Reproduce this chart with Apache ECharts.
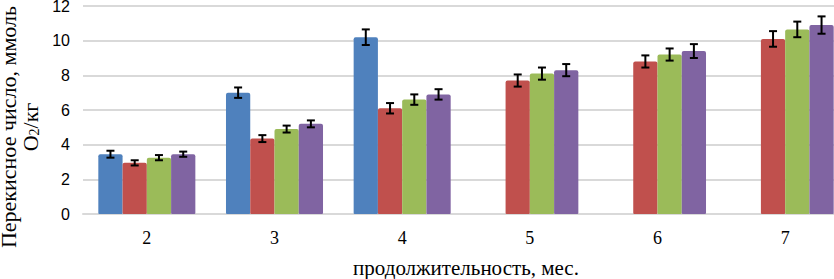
<!DOCTYPE html>
<html>
<head>
<meta charset="utf-8">
<script src="https://cdn.jsdelivr.net/npm/echarts@6/dist/echarts.min.js"></script>
<style>
  html, body { margin: 0; padding: 0; background: #fff; }
  #chart { width: 834px; height: 279px; }
</style>
</head>
<body>
<div id="chart"></div>
<script>
// months of storage
const categories = ['2', '3', '4', '5', '6', '7'];
const yTicks = [0, 2, 4, 6, 8, 10, 12];

// peroxide value, mmol O2/kg (blue series stops after month 4)
const blueValues = [3.45, 7.0, 10.2, '-', '-', '-'];
const redValues = [2.95, 4.35, 6.1, 7.7, 8.8, 10.1];
const greenValues = [3.25, 4.9, 6.6, 8.1, 9.2, 10.65];
const purpleValues = [3.45, 5.2, 6.9, 8.3, 9.4, 10.9];

// error bar half-heights
const blueErrors = [0.2, 0.3, 0.45, 0, 0, 0];
const redErrors = [0.15, 0.2, 0.3, 0.35, 0.35, 0.45];
const greenErrors = [0.15, 0.2, 0.3, 0.35, 0.35, 0.45];
const purpleErrors = [0.15, 0.2, 0.3, 0.35, 0.4, 0.5];

const colors = ['#4F81BD', '#C0504D', '#9BBB59', '#8064A2'];
const allValues = [blueValues, redValues, greenValues, purpleValues];
const allErrors = [blueErrors, redErrors, greenErrors, purpleErrors];

const barCategoryGap = 0.24;

const chart = echarts.init(document.getElementById('chart'), null, { renderer: 'svg' });

const barSeries = allValues.map((vals, k) => ({
  type: 'bar',
  data: vals,
  barGap: '0%',
  barCategoryGap: (barCategoryGap * 100) + '%',
  itemStyle: { color: colors[k], borderRadius: [2, 2, 1, 1] },
  z: 2
}));

const errorSeries = allValues.map((vals, k) => ({
  type: 'custom',
  z: 5,
  data: vals
    .map((v, i) => v === '-' ? null : [i, v, allErrors[k][i]])
    .filter(d => d !== null),
  renderItem: (params, api) => {
    const center = api.coord([api.value(0), 0])[0];
    const band = api.size([1, 0])[0];
    const bw = band * (1 - barCategoryGap) / 4;
    const cx = center + (k - 1.5) * bw;
    const top = api.coord([api.value(0), api.value(1) + api.value(2)])[1];
    const bot = api.coord([api.value(0), api.value(1) - api.value(2)])[1];
    const cap = 4;
    const style = { stroke: '#000', lineWidth: 2 };
    return {
      type: 'group',
      children: [
        { type: 'line', shape: { x1: cx, y1: top, x2: cx, y2: bot }, style },
        { type: 'line', shape: { x1: cx - cap, y1: top, x2: cx + cap, y2: top }, style },
        { type: 'line', shape: { x1: cx - cap, y1: bot, x2: cx + cap, y2: bot }, style }
      ]
    };
  }
}));

const option = {
  animation: false,
  grid: { left: 83, right: -15, top: 6, bottom: 65, outerBoundsMode: 'none' },
  xAxis: {
    type: 'category',
    data: categories,
    axisLine: { lineStyle: { color: '#d9d9d9', width: 2 } },
    axisTick: { show: false },
    axisLabel: {
      margin: 15,
      fontFamily: 'Liberation Serif',
      fontSize: 18,
      color: '#000'
    },
    name: 'продолжительность, мес.',
    nameLocation: 'middle',
    nameGap: 43,
    nameTextStyle: { fontFamily: 'Liberation Serif', fontSize: 21, color: '#000' }
  },
  yAxis: {
    type: 'value',
    min: yTicks[0],
    max: yTicks[yTicks.length - 1],
    interval: 2,
    axisLine: { show: false },
    axisTick: { show: false },
    splitLine: { lineStyle: { color: '#d9d9d9', width: 2 } },
    axisLabel: {
      margin: 13,
      fontFamily: 'Liberation Sans',
      fontSize: 16,
      color: '#000'
    },
    name: 'Перекисное число, ммоль\n{n|O}{s|2}{n|/кг}',
    nameLocation: 'middle',
    nameRotate: 90,
    nameGap: 40,
    nameTextStyle: {
      fontFamily: 'Liberation Serif',
      fontSize: 22,
      lineHeight: 22,
      color: '#000',
      padding: [0, 34, 0, 0],
      rich: {
        n: { fontFamily: 'Liberation Serif', fontSize: 22, color: '#000' },
        s: { fontFamily: 'Liberation Serif', fontSize: 14, color: '#000', padding: [8, 0, 0, 0] }
      }
    }
  },
  series: [...barSeries, ...errorSeries]
};

chart.setOption(option);
</script>
</body>
</html>
